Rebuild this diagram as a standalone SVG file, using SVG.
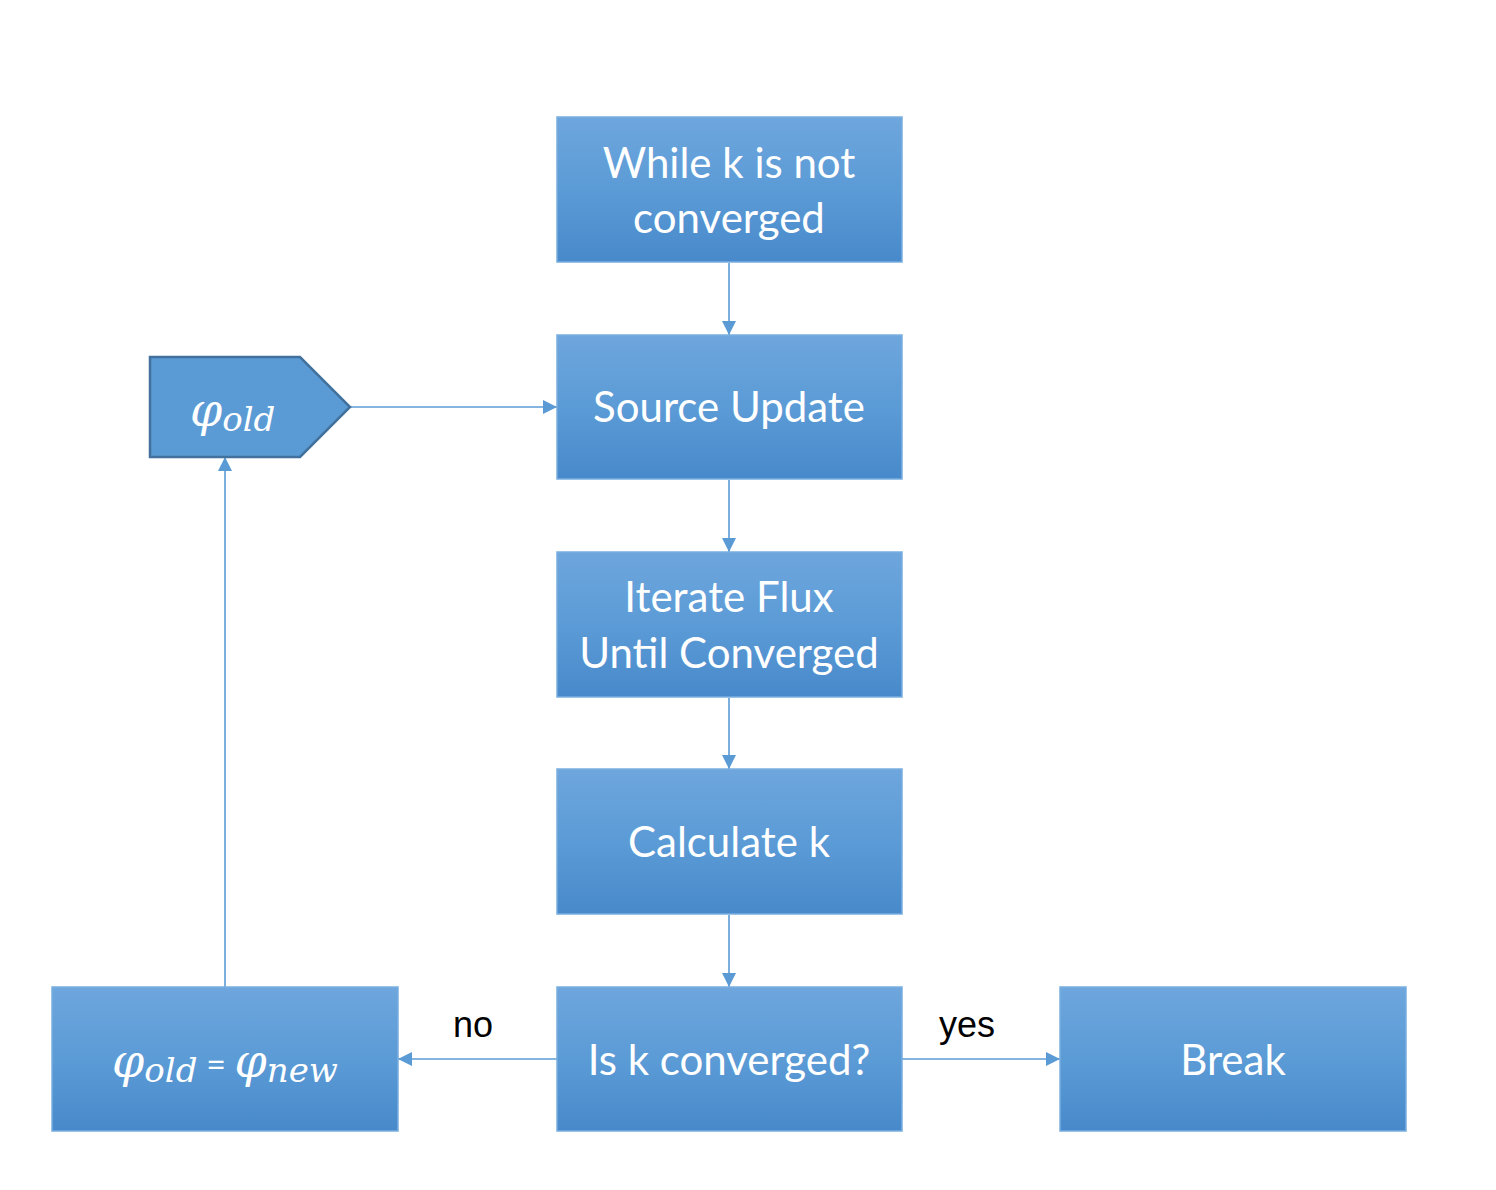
<svg xmlns="http://www.w3.org/2000/svg" width="1496" height="1190" viewBox="0 0 1496 1190">
<style>
.box{fill:url(#g);stroke:#79aee0;stroke-width:1.5}
.t{font-family:Lato,"Open Sans","Liberation Sans",sans-serif;font-size:42px;fill:#fff;text-anchor:middle}
.m{font-family:"DejaVu Serif","Liberation Serif",serif;font-style:italic;fill:#fff}
.lbl{font-family:"Liberation Sans",Arial,sans-serif;font-size:36px;fill:#000;text-anchor:middle}
.c{stroke:#5b9bd5;stroke-width:1.6;fill:none;marker-end:url(#a)}
</style>
<defs>
<linearGradient id="g" x1="0" y1="0" x2="0" y2="1">
<stop offset="0" stop-color="#6ea6dd"/>
<stop offset="0.5" stop-color="#5b9bd6"/>
<stop offset="1" stop-color="#4889cb"/>
</linearGradient>
<marker id="a" markerWidth="14" markerHeight="14" refX="14" refY="7" orient="auto" markerUnits="userSpaceOnUse">
<path d="M0,0 L14,7 L0,14 Z" fill="#5b9bd5"/>
</marker>
</defs>
<rect width="1496" height="1190" fill="#fff"/>
<g id="connectors">
<line class="c" x1="729" y1="263" x2="729" y2="335"/>
<line class="c" x1="729" y1="480" x2="729" y2="552"/>
<line class="c" x1="729" y1="698" x2="729" y2="769"/>
<line class="c" x1="729" y1="915" x2="729" y2="987"/>
<line class="c" x1="350" y1="407" x2="557" y2="407"/>
<line class="c" x1="557" y1="1059" x2="398" y2="1059"/>
<line class="c" x1="902" y1="1059" x2="1060" y2="1059"/>
<line class="c" x1="225" y1="987" x2="225" y2="457"/>
<text class="lbl" x="473" y="1037">no</text>
<text class="lbl" x="967" y="1037">yes</text>
</g>
<g id="while">
<rect class="box" x="557" y="117" width="345" height="145"/>
<text class="t" x="729" y="178">While k is not</text>
<text class="t" x="729" y="233">converged</text>
</g>
<g id="source">
<rect class="box" x="557" y="335" width="345" height="144"/>
<text class="t" x="729" y="422">Source Update</text>
</g>
<g id="iterate">
<rect class="box" x="557" y="552" width="345" height="145"/>
<text class="t" x="729" y="612">Iterate Flux</text>
<text class="t" x="729" y="668">Until Converged</text>
</g>
<g id="calc">
<rect class="box" x="557" y="769" width="345" height="145"/>
<text class="t" x="729" y="857">Calculate k</text>
</g>
<g id="isk">
<rect class="box" x="557" y="987" width="345" height="144"/>
<text class="t" x="729" y="1075">Is k converged?</text>
</g>
<g id="break">
<rect class="box" x="1060" y="987" width="346" height="144"/>
<text class="t" x="1233" y="1075">Break</text>
</g>
<g id="update">
<rect class="box" x="52" y="987" width="346" height="144"/>
<text x="225" y="1077" text-anchor="middle"><tspan class="m" font-size="46">φ</tspan><tspan class="m" font-size="34" dy="5">old</tspan><tspan font-family="Lato,sans-serif" font-size="34" fill="#fff" dy="-5"> = </tspan><tspan class="m" font-size="46">φ</tspan><tspan class="m" font-size="34" dy="5">new</tspan></text>
</g>
<g id="phiold">
<path d="M150,357 L300,357 L350,407 L300,457 L150,457 Z" fill="#5b9bd5" stroke="#41719c" stroke-width="2.5"/>
<text x="190" y="426"><tspan class="m" font-size="46">φ</tspan><tspan class="m" font-size="34" dy="5">old</tspan></text>
</g>
</svg>
